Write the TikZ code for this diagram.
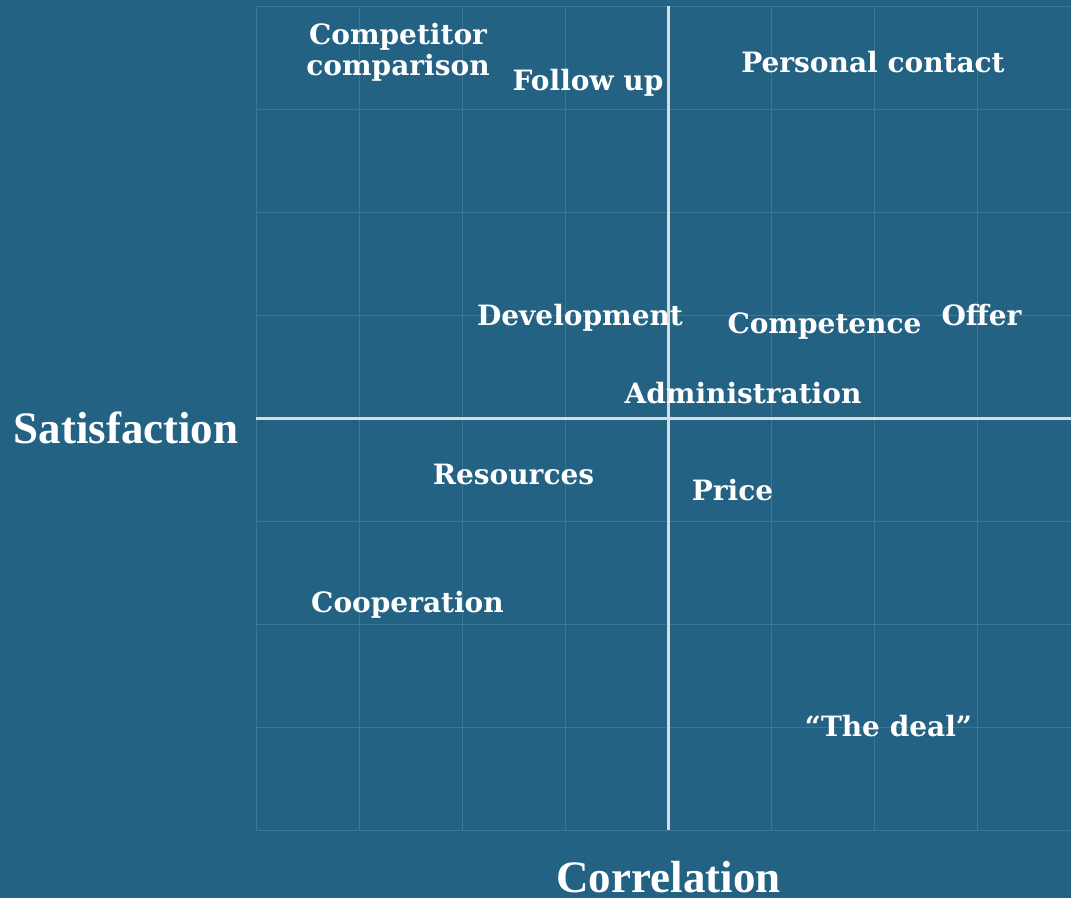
\documentclass[tikz,border=0pt]{standalone}
\usepackage{fontspec}
\setmainfont{DejaVu Serif}
\newfontfamily\axisfont{Liberation Serif}
\definecolor{bgblue}{RGB}{35,98,131}
\definecolor{gridblue}{RGB}{60,119,151}
\definecolor{axisgray}{RGB}{218,218,218}
\begin{document}
\begin{tikzpicture}[x=1bp,y=-1bp,
  lbl/.style={text=white,inner sep=0pt,anchor=base,
    font=\fontsize{28bp}{31bp}\selectfont\bfseries},
  axlbl/.style={text=white,inner sep=0pt,anchor=base,
    font=\axisfont\fontsize{45bp}{47bp}\selectfont\bfseries},
  gridline/.style={draw=gridblue,line width=1bp},
  axisline/.style={draw=axisgray,line width=3bp}]
\useasboundingbox (0,0) rectangle (1071,898);
\clip (0,0) rectangle (1071,898);
\fill[bgblue] (0,0) rectangle (1071,898);
% grid
\foreach \i in {0,...,8}{
  \draw[gridline] ({256+103*\i},6) -- ({256+103*\i},830);
  \draw[gridline] (256,{6+103*\i}) -- (1090,{6+103*\i});
}
% axes
\coordinate (vtop) at (668,6);
\coordinate (vbot) at (668,830);
\coordinate (hleft) at (256,418);
\coordinate (hright) at (1080,418);
\draw[axisline] (vtop) -- (vbot);
\draw[axisline] (hleft) -- (hright);
% labels
\node[lbl] (comp1) at (398,44) {Competitor};
\node[lbl] (comp2) at (398,75) {comparison};
\node[lbl] (follow) at (588,90) {Follow up};
\node[lbl] (personal) at (873,72) {Personal contact};
\node[lbl] (devel) at (580,325) {Development};
\node[lbl] (compet) at (824.5,333) {Competence};
\node[lbl] (offer) at (981.5,325) {Offer};
\node[lbl] (admin) at (743,403) {Administration};
\node[lbl] (resources) at (513.5,484) {Resources};
\node[lbl] (price) at (732.5,500) {Price};
\node[lbl] (coop) at (407.5,612) {Cooperation};
\node[lbl] (deal) at (888.5,736) {“The deal”};
\node[axlbl] (satis) at (126,443) {Satisfaction};
\node[axlbl] (corr) at (668.5,892) {Correlation};
\end{tikzpicture}
\end{document}
